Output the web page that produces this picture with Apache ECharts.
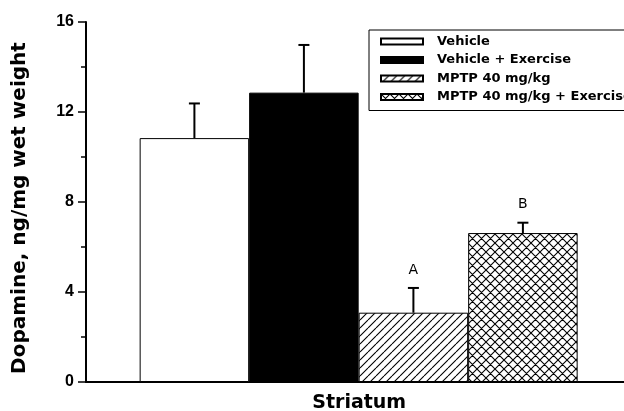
<!DOCTYPE html>
<html><head><meta charset="utf-8">
<script src="https://cdn.jsdelivr.net/npm/echarts@6/dist/echarts.min.js"></script>
<style>html,body{margin:0;padding:0;background:#fff;}#c{width:624px;height:411px;}</style>
</head><body><div id="c"></div>
<script>
const groups = ['Vehicle', 'Vehicle + Exercise', 'MPTP 40 mg/kg', 'MPTP 40 mg/kg + Exercise'];
const positions = [1, 2, 3, 4];
const means = [10.84, 12.86, 3.08, 6.62];
const errTops = [12.38, 14.98, 4.18, 7.08];
const letters = ['', '', 'A', 'B'];
const yTicks = [0, 4, 8, 12, 16];
const xTitle = 'Striatum';
const yTitle = 'Dopamine, ng/mg wet weight';

function makePattern(size, cross) {
  const c = document.createElement('canvas');
  c.width = size; c.height = size;
  const g = c.getContext('2d');
  g.fillStyle = '#fff'; g.fillRect(0, 0, size, size);
  g.strokeStyle = '#000'; g.lineWidth = 1.1;
  g.beginPath();
  for (let k = -1; k <= 1; k++) {
    g.moveTo(k * size, size); g.lineTo(k * size + size, 0);
    if (cross) { g.moveTo(k * size, 0); g.lineTo(k * size + size, size); }
  }
  g.stroke();
  return c;
}
const fills = ['#ffffff', '#000000', { image: makePattern(8, false), repeat: 'repeat' }, { image: makePattern(9, true), repeat: 'repeat' }];

const FONT = 'DejaVu Sans';
const chart = echarts.init(document.getElementById('c'), null, { renderer: 'canvas' });

const barSeries = groups.map((name, i) => ({
  name: name,
  type: 'bar',
  barWidth: 109.5,
  barGap: '-100%',
  data: [[positions[i], means[i]]],
  itemStyle: { color: fills[i], borderColor: '#000', borderWidth: 1 },
  emphasis: { disabled: true },
  animation: false
}));

const errSeries = {
  type: 'custom',
  silent: true,
  animation: false,
  data: positions.map((p, i) => [p, means[i], errTops[i], i]),
  renderItem: function (params, api) {
    const x = api.value(0);
    const base = api.coord([x, api.value(1)]);
    const top = api.coord([x, api.value(2)]);
    const idx = api.value(3);
    const children = [
      { type: 'line', shape: { x1: base[0], y1: base[1], x2: top[0], y2: top[1] }, style: { stroke: '#000', lineWidth: 2 } },
      { type: 'line', shape: { x1: top[0] - 5.5, y1: top[1], x2: top[0] + 5.5, y2: top[1] }, style: { stroke: '#000', lineWidth: 2 } }
    ];
    if (letters[idx]) {
      children.push({ type: 'text', x: top[0], y: top[1] - 11, style: { text: letters[idx], fill: '#000', font: '14px "DejaVu Sans"', align: 'center', verticalAlign: 'bottom' } });
    }
    return { type: 'group', children: children };
  }
};

chart.setOption({
  backgroundColor: '#fff',
  animation: false,
  grid: { left: 86, top: 22, bottom: 29, right: -8.4, containLabel: false, outerBoundsMode: 'none' },
  legend: {
    data: groups,
    orient: 'vertical',
    left: 369, top: 30,
    icon: 'rect',
    itemWidth: 42, itemHeight: 6, itemGap: 3.5,
    padding: [4, 10, 6, 11],
    borderColor: '#000', borderWidth: 1,
    selectedMode: false,
    textStyle: { fontFamily: FONT, fontWeight: 'bold', fontSize: 13, color: '#000', lineHeight: 15, padding: [0, 0, 0, 9] }
  },
  xAxis: {
    type: 'value', min: 0.01, max: 5,
    name: xTitle, nameLocation: 'middle', nameGap: 12,
    nameTextStyle: { fontFamily: FONT, fontWeight: 'bold', fontSize: 19, color: '#000' },
    axisLine: { show: true, lineStyle: { color: '#000', width: 2 } },
    axisTick: { show: false }, axisLabel: { show: false }, splitLine: { show: false }
  },
  yAxis: {
    type: 'value', min: yTicks[0], max: yTicks[yTicks.length - 1], interval: 4,
    name: yTitle, nameLocation: 'middle', nameRotate: 90, nameGap: 56,
    nameTextStyle: { fontFamily: FONT, fontWeight: 'bold', fontSize: 20, color: '#000', padding: [0, 12, 0, 0] },
    axisLine: { show: true, lineStyle: { color: '#000', width: 2 } },
    axisTick: { show: true, inside: false, length: 8, lineStyle: { color: '#000', width: 1.5 } },
    minorTick: { show: true, splitNumber: 2, length: 5, lineStyle: { color: '#000', width: 1.5 } },
    axisLabel: { margin: 12, fontFamily: 'Liberation Sans', fontWeight: 'bold', fontSize: 16, color: '#000' },
    splitLine: { show: false }
  },
  series: barSeries.concat([errSeries])
});
</script></body></html>
